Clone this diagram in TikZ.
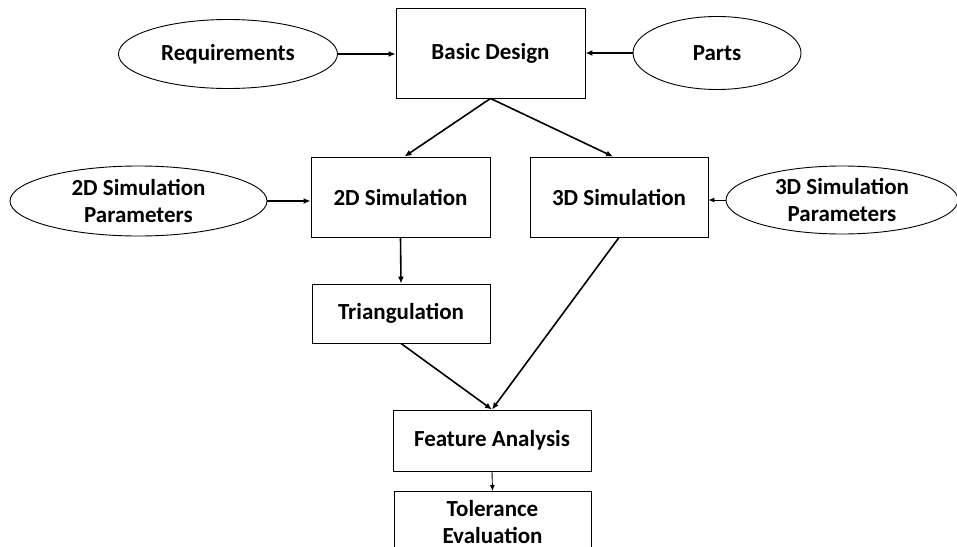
\documentclass[tikz,border=0pt]{standalone}
\usepackage{fontspec}
\setmainfont{Carlito}
\usetikzlibrary{shapes.geometric, arrows.meta}

\begin{document}
\begin{tikzpicture}[x=1pt, y=-1pt, font=\bfseries\fontsize{23}{27}\selectfont,
    block/.style={draw, align=center, inner sep=0pt, line width=0.9pt},
    param/.style={draw, ellipse, align=center, inner sep=0pt, line width=0.9pt},
    link/.style={-{Latex[length=7pt,width=6pt]}, line width=1.6pt},
    thinlink/.style={-{Latex[length=6pt,width=5pt]}, line width=0.9pt}]
    \clip (0,0) rectangle (957,546);
    \fill[white] (0,0) rectangle (957,546);

    \node[block, minimum width=189pt, minimum height=90pt] (basic) at (490.5,53) {Basic Design};
    \node[param, minimum width=219pt, minimum height=69pt] (req) at (228,54) {Requirements};
    \node[param, minimum width=168pt, minimum height=73pt] (parts) at (717,53) {Parts};

    \node[block, minimum width=179pt, minimum height=80pt] (sim2d) at (400.5,197) {2D Simulation};
    \node[block, minimum width=178pt, minimum height=80pt] (sim3d) at (619,197) {3D Simulation};
    \node[param, minimum width=257pt, minimum height=70pt] (par2d) at (138.5,201) {2D Simulation\\Parameters};
    \node[param, minimum width=232pt, minimum height=68pt] (par3d) at (842,200) {3D Simulation\\Parameters};

    \node[block, minimum width=178pt, minimum height=59pt] (tri) at (401,313.5) {Triangulation};
    \node[block, minimum width=198pt, minimum height=61pt] (feat) at (492,440.5) {Feature Analysis};
    \node[block, minimum width=197pt, minimum height=61pt, anchor=north] (tol) at (492.5,491) {Tolerance\\Evaluation};

    \draw[link] (req.east) -- (req.east -| basic.west);
    \draw[link] (parts.west) -- (parts.west -| basic.east);
    \draw[link] (basic.south) -- ([xshift=4pt]sim2d.north);
    \draw[link] (basic.south) -- ([xshift=-6pt]sim3d.north);
    \draw[link] (par2d.east) -- (par2d.east -| sim2d.west);
    \draw[thinlink] (par3d.west) -- (par3d.west -| sim3d.east);
    \draw[link] (sim2d.south) -- (tri.north);
    \draw[link] (tri.south) -- (feat.north);
    \draw[link] (sim3d.south) -- (feat.north);
    \draw[thinlink] (feat.south) -- (tol.north);
\end{tikzpicture}
\end{document}
